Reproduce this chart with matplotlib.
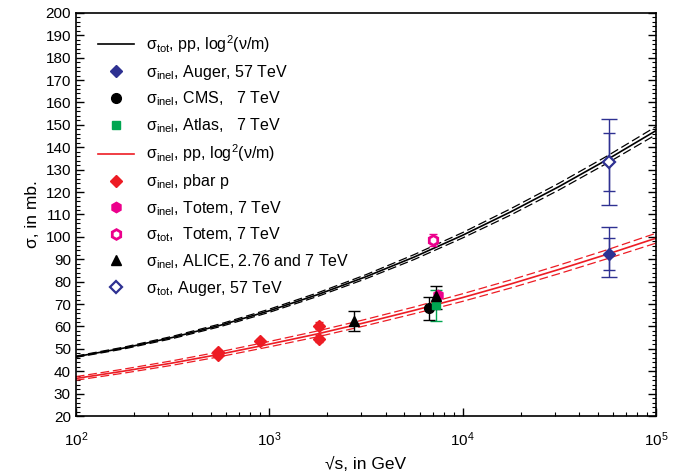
import matplotlib.pyplot as plt
from matplotlib.ticker import MultipleLocator, LogLocator, NullFormatter

plt.rcParams['font.family'] = ['Liberation Sans', 'DejaVu Sans']
plt.rcParams['mathtext.fontset'] = 'custom'
plt.rcParams['mathtext.rm'] = 'Liberation Sans'
plt.rcParams['mathtext.it'] = 'Liberation Sans:italic'
plt.rcParams['mathtext.bf'] = 'Liberation Sans:bold'

# fitted curves (sqrt(s) in GeV, sigma in mb)
curve_x = [100, 177.8, 316.2, 562.3, 1000, 1778, 3162, 5623, 10000, 17783, 31623, 56234, 100000]
tot_fit = [46.5, 50.4, 55.1, 60.6, 67.0, 74.2, 82.2, 91.0, 100.7, 111.2, 122.5, 134.6, 147.4]
tot_band = [0.3, 0.4, 0.5, 0.6, 0.7, 0.8, 0.9, 1.1, 1.2, 1.4, 1.5, 1.6, 1.8]
inel_fit = [36.8, 40.1, 43.7, 47.7, 52.1, 56.7, 61.8, 67.2, 72.9, 79.0, 85.5, 92.3, 99.4]
inel_band = [0.8, 0.9, 1.0, 1.1, 1.2, 1.3, 1.4, 1.5, 1.7, 1.8, 1.9, 2.0, 2.2]

# measurements
pbar_x = [546, 546, 900, 1800, 1800]
pbar_y = [48.4, 47.4, 53.7, 60.3, 54.6]
pbar_err = [1.0, 1.0, 0.8, 1.5, 1.4]

auger_x = [57000]
auger_inel = [92.4]
auger_inel_stat = [7.0]
auger_inel_lo, auger_inel_hi = [10.3], [11.8]
auger_tot = [133.5]
auger_tot_stat = [13.0]
auger_tot_lo, auger_tot_hi = [19.2], [19.0]

cms_x, cms_y, cms_err = [6700], [68.1], [5.2]
atlas_x, atlas_y, atlas_err = [7300], [69.4], [7.1]
alice_x = [2760, 7300]
alice_y = [62.6, 73.4]
alice_lo = [4.8, 5.6]
alice_hi = [4.2, 4.5]
totem_inel_x, totem_inel_y = [7500], [74.0]
totem_tot_x, totem_tot_y, totem_tot_err = [7050], [98.6], [2.6]

red = '#ED1C24'
pink = '#EC008C'
green = '#00A651'
blue = '#2E3192'

fig = plt.figure(figsize=(6.89, 4.75), dpi=100)
ax = fig.add_axes([0.110, 0.124, 0.842, 0.849])

# curves with their error corridors
tot_up = [v + e for v, e in zip(tot_fit, tot_band)]
tot_dn = [v - e for v, e in zip(tot_fit, tot_band)]
inel_up = [v + e for v, e in zip(inel_fit, inel_band)]
inel_dn = [v - e for v, e in zip(inel_fit, inel_band)]
dash = (0, (7, 3))
ax.plot(curve_x, tot_up, color='black', lw=0.9, ls=dash)
ax.plot(curve_x, tot_dn, color='black', lw=0.9, ls=dash)
tot_line, = ax.plot(curve_x, tot_fit, color='black', lw=1.2)
ax.plot(curve_x, inel_up, color=red, lw=0.9, ls=dash)
ax.plot(curve_x, inel_dn, color=red, lw=0.9, ls=dash)
inel_line, = ax.plot(curve_x, inel_fit, color=red, lw=1.2)

# error bars
ax.errorbar(pbar_x, pbar_y, yerr=pbar_err, fmt='none', ecolor=red, elinewidth=1, capsize=3)
ax.errorbar(auger_x, auger_inel, yerr=[auger_inel_lo, auger_inel_hi], fmt='none', ecolor=blue, elinewidth=1, capsize=6)
ax.errorbar(auger_x, auger_inel, yerr=auger_inel_stat, fmt='none', ecolor=blue, elinewidth=1, capsize=4)
ax.errorbar(auger_x, auger_tot, yerr=[auger_tot_lo, auger_tot_hi], fmt='none', ecolor=blue, elinewidth=1, capsize=6)
ax.errorbar(auger_x, auger_tot, yerr=auger_tot_stat, fmt='none', ecolor=blue, elinewidth=1, capsize=4)
ax.errorbar(atlas_x, atlas_y, yerr=atlas_err, fmt='none', ecolor=green, elinewidth=1, capsize=4)
ax.errorbar(cms_x, cms_y, yerr=cms_err, fmt='none', ecolor='black', elinewidth=1, capsize=4)
ax.errorbar(alice_x, alice_y, yerr=[alice_lo, alice_hi], fmt='none', ecolor='black', elinewidth=1, capsize=4)
ax.errorbar(totem_tot_x, totem_tot_y, yerr=totem_tot_err, fmt='none', ecolor=pink, elinewidth=1, capsize=3)

# markers
pbar_pts, = ax.plot(pbar_x, pbar_y, 'D', color=red, ms=6, ls='none')
auger_inel_pts, = ax.plot(auger_x, auger_inel, 'D', color=blue, ms=6, ls='none')
auger_tot_pts, = ax.plot(auger_x, auger_tot, 'D', mfc='white', mec=blue, mew=1.6, ms=6, ls='none')
cms_pts, = ax.plot(cms_x, cms_y, 'o', color='black', ms=7, ls='none')
atlas_pts, = ax.plot(atlas_x, atlas_y, 's', color=green, ms=6, ls='none')
totem_inel_pts, = ax.plot(totem_inel_x, totem_inel_y, 'h', color=pink, ms=7.5, ls='none')
totem_tot_pts, = ax.plot(totem_tot_x, totem_tot_y, 'h', mfc='white', mec=pink, mew=2, ms=7, ls='none')
alice_pts, = ax.plot(alice_x, alice_y, '^', color='black', ms=7.5, ls='none')

handles = [tot_line, auger_inel_pts, cms_pts, atlas_pts, inel_line, pbar_pts,
           totem_inel_pts, totem_tot_pts, alice_pts, auger_tot_pts]
labels = [
    'σ$_{\\rm tot}$, pp, log$^2$(ν/m)',
    'σ$_{\\rm inel}$, Auger, 57 TeV',
    'σ$_{\\rm inel}$, CMS,   7 TeV',
    'σ$_{\\rm inel}$, Atlas,   7 TeV',
    'σ$_{\\rm inel}$, pp, log$^2$(ν/m)',
    'σ$_{\\rm inel}$, pbar p',
    'σ$_{\\rm inel}$, Totem, 7 TeV',
    'σ$_{\\rm tot}$,  Totem, 7 TeV',
    'σ$_{\\rm inel}$, ALICE, 2.76 and 7 TeV',
    'σ$_{\\rm tot}$, Auger, 57 TeV',
]
ax.legend(handles, labels, loc='upper left', bbox_to_anchor=(0.013, 0.985), frameon=False,
          fontsize=11.5, handlelength=2.3, handletextpad=0.7, labelspacing=0.49,
          borderaxespad=0.5, numpoints=1)

ax.set_xscale('log')
ax.set_xlim(100, 100000)
ax.set_ylim(20, 200)
ax.yaxis.set_major_locator(MultipleLocator(10))
ax.yaxis.set_minor_locator(MultipleLocator(2))
ax.xaxis.set_minor_locator(LogLocator(base=10, subs=range(2, 10)))
ax.xaxis.set_minor_formatter(NullFormatter())
ax.tick_params(which='both', direction='in', right=True, labelsize=11)
ax.tick_params(which='major', length=6, width=1)
ax.tick_params(which='minor', length=3, width=0.8)
ax.tick_params(axis='x', which='major', pad=10)
for sp in ax.spines.values():
    sp.set_linewidth(1.2)

ax.set_xlabel('√s, in GeV', fontsize=12.5, labelpad=6)
ax.set_ylabel('σ, in mb.', fontsize=12.5, labelpad=4)

fig.savefig('out.png', dpi=100)
